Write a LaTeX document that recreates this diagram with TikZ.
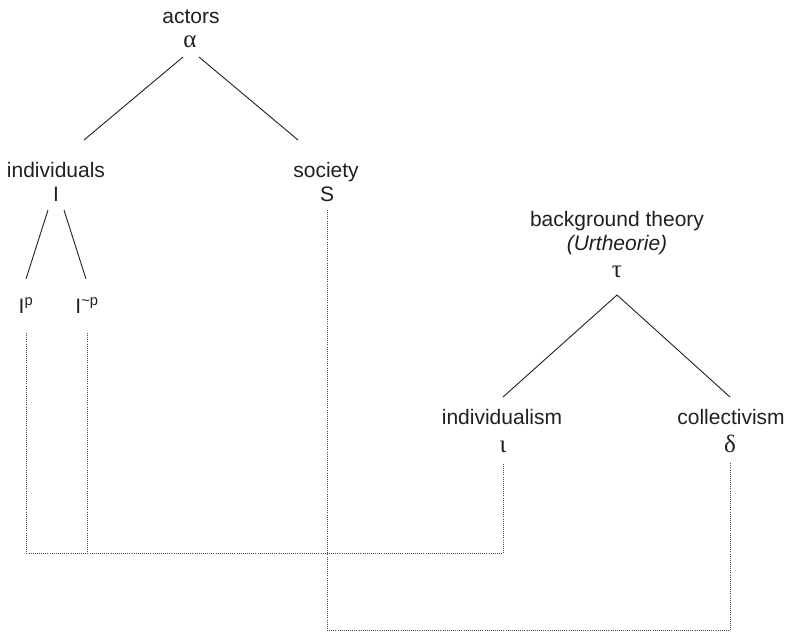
\documentclass[tikz,border=0pt]{standalone}
\usepackage{fontspec}
\setmainfont{Liberation Sans}
\newfontfamily\grk{Liberation Serif}
\usetikzlibrary{calc}
\definecolor{ink}{HTML}{231F20}
\tikzset{
  lbl/.style={anchor=base, inner sep=0pt, text=ink,
              font=\fontsize{21}{25}\selectfont},
  sym/.style={anchor=base, inner sep=0pt, text=ink,
              font=\fontsize{25}{29}\selectfont\grk},
  ltr/.style={anchor=base, inner sep=0pt, text=ink,
              font=\fontsize{21}{25}\selectfont},
  branch/.style={draw=ink, line width=0.9pt},
  link/.style={draw=ink!80, line width=0.7pt, dash pattern=on 0.7pt off 1.4pt}
}
\begin{document}
\begin{tikzpicture}[x=1pt, y=-1pt]
  \useasboundingbox (0,0) rectangle (791,633);

  % actors tree
  \node[lbl] (actors) at (191,23) {actors};
  \node[sym] (alpha)  at (190,47) {α};
  \node[lbl] (indiv)  at (56,177) {individuals};
  \node[ltr] (I)      at (56,201) {I};
  \node[lbl] (soc)    at (326,177) {society};
  \node[ltr] (S)      at (327,201) {S};
  \node[ltr] (Ip)     at (26,313) {I\textsuperscript{p}};
  \node[ltr] (Inp)    at (87,313) {I\textsuperscript{\textasciitilde p}};

  % background theory tree
  \node[lbl] (bg)    at (617,226) {background theory};
  \node[lbl] (urt)   at (617,250) {\itshape (Urtheorie)};
  \node[sym] (tau)   at (617,277) {τ};
  \node[lbl] (indism) at (502,424) {individualism};
  \node[sym] (iota)  at (503,452) {ι};
  \node[lbl] (coll)  at (731,424) {collectivism};
  \node[sym] (delta) at (730,452) {δ};

  % solid branches
  \draw[branch] ($(alpha.base)+(-7,10)$) -- ($(indiv.base)+(28,-37)$);
  \draw[branch] ($(alpha.base)+(9,10)$)  -- ($(soc.base)+(-28,-37)$);
  \draw[branch] ($(I.base)+(-8,9)$) -- ($(Ip.base)+(0,-34)$);
  \draw[branch] ($(I.base)+(8,9)$)  -- ($(Inp.base)+(-1,-34)$);
  \draw[branch] ($(tau.base)+(0,18)$) -- ($(iota.base)+(0,-55)$);
  \draw[branch] ($(tau.base)+(0,18)$) -- ($(delta.base)+(0,-55)$);

  % dotted links
  \draw[link] ($(Ip.base)+(0,20)$) -- ($(Ip.base)+(0,240)$) -| ($(iota.base)+(0,11)$);
  \draw[link] ($(Inp.base)+(0,20)$) -- ($(Inp.base)+(0,240)$);
  \draw[link] ($(S.base)+(0,9)$) -- ($(S.base)+(0,429)$) -| ($(delta.base)+(0,10)$);
\end{tikzpicture}
\end{document}
